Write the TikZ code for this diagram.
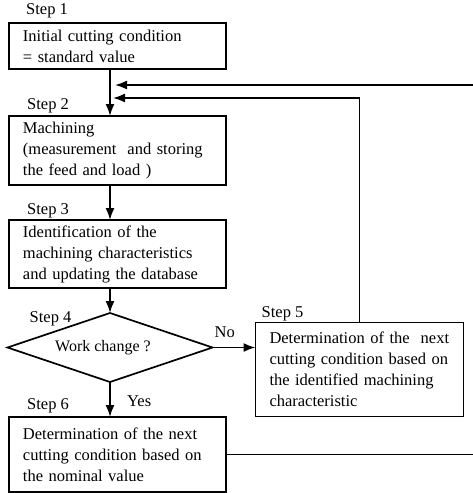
\documentclass[tikz,border=0pt]{standalone}
\usepackage{fontspec}
\setmainfont{Liberation Serif}
\usetikzlibrary{shapes.geometric, arrows.meta, positioning, calc}
\tikzstyle{stepbox}=[rectangle, draw=black, line width=1.7pt, outer sep=0pt, text width=189pt, inner xsep=14pt, align=left, font=\fontsize{16.5}{21}\selectfont]
\tikzstyle{decision}=[diamond, aspect=2.97, draw=black, line width=1.7pt, outer sep=0pt, minimum width=205pt, minimum height=69pt, inner sep=0pt, font=\fontsize{16}{20}\selectfont]
\tikzstyle{steplabel}=[inner sep=0pt, font=\fontsize{16.5}{20}\selectfont]
\tikzstyle{arrow}=[line width=1.7pt, -{Latex[length=12pt, width=9pt]}]

\begin{document}
\begin{tikzpicture}
	\useasboundingbox (0,0) rectangle (472pt,-493pt);
	
		\node(n1)[stepbox, minimum height=46pt] at (117.5pt,-46pt){Initial cutting condition\\= standard value};
		
		\node(n2)[stepbox, minimum height=69pt, below=47pt of n1]{Machining\\(measurement\ \ and storing\\the feed and load )};
		
		\node(n3)[stepbox, minimum height=68pt, below=35pt of n2]{Identification of the\\machining characteristics\\and updating the database};
		
		\node(n4)[decision, below=25pt of n3, xshift=-7.5pt]{Work change ?\hspace*{14pt}};
		
		\node(n5)[stepbox, text width=180pt, minimum height=94pt, right=43pt of n4, yshift=-22pt]{Determination of the\ \ next\\cutting condition based on\\the identified machining\\characteristic};
		
		\node(n6)[stepbox, minimum height=75pt, below=35pt of n4, xshift=7.5pt]{Determination of the next\\cutting condition based on\\the nominal value};
		
		% step labels
		\node(l1)[steplabel, above right=5pt and 17pt of n1.north west]{Step 1};
		\node(l2)[steplabel, above right=3pt and 18pt of n2.north west]{Step 2};
		\node(l3)[steplabel, above right=2pt and 18pt of n3.north west]{Step 3};
		\node(l4)[steplabel, above right=21pt and 22pt of n4.west]{Step 4};
		\node(l5)[steplabel, above right=1pt and 6pt of n5.north west]{Step 5};
		\node(l6)[steplabel, above right=4pt and 18pt of n6.north west]{Step 6};
		\node(no)[steplabel, above right=10pt and 2pt of n4.east]{No};
		\node(yes)[steplabel, below right=13pt and 17pt of n4.south]{Yes};
		
		\coordinate(fb5) at ($(n2.north -| n4.north)+(3pt,18pt)$);
		\coordinate(fb6) at ($(n2.north -| n4.north)+(5pt,31pt)$);
		\coordinate(rt) at (476pt,0pt);
		
		\draw[arrow](n1.south -| n4.north)--(n2.north -| n4.north);
		\draw[arrow](n2.south -| n4.north)--(n3.north -| n4.north);
		\draw[arrow](n3.south -| n4.north)--(n4.north);
		\draw[arrow](n4.east)--(n4.east -| n5.west);
		\draw[arrow](n4.south)--(n6.north -| n4.south);
		\draw[arrow](n5.north)|-(fb5);
		\draw[arrow](n6.east)--(n6.east -| rt)|-(fb6);
		
\end{tikzpicture}
\end{document}
